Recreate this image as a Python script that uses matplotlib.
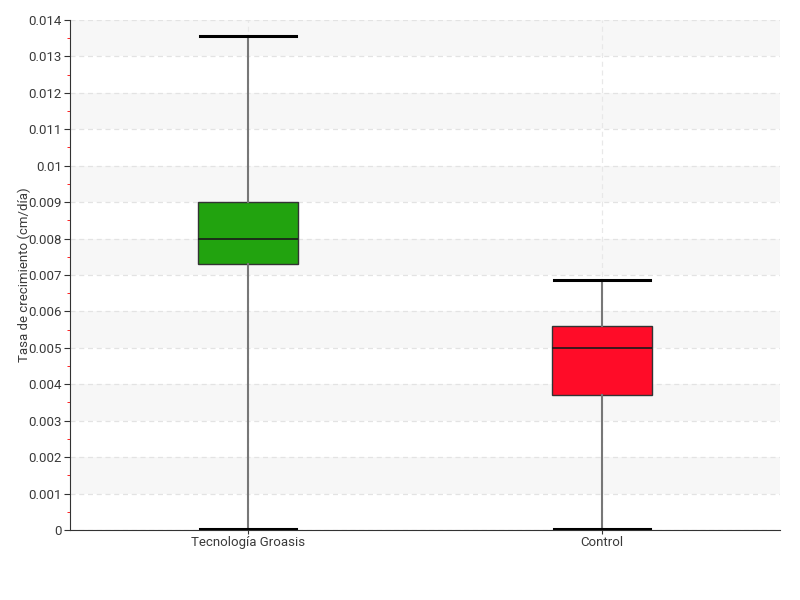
import matplotlib
matplotlib.use("Agg")
import matplotlib.pyplot as plt
from matplotlib.ticker import MultipleLocator

# Values
groups = ["Tecnología Groasis", "Control"]
whisker_low = [0.00003, 0.00003]
q1 = [0.0073, 0.0037]
medians = [0.0080, 0.0050]
q3 = [0.0090, 0.0056]
whisker_high = [0.01357, 0.00687]
box_colors = ["#22a30f", "#ff0c28"]
y_ticks = [i / 1000 for i in range(0, 15)]

plt.rcParams["font.family"] = ["Roboto", "DejaVu Sans"]
text_color = "#3a3a3a"

fig = plt.figure(figsize=(8, 6), dpi=100)
ax = fig.add_axes([0.0875, 0.1167, 0.8875, 0.85])

# alternating background bands
for lo in y_ticks[1:-1:2]:
    ax.axhspan(lo, lo + 0.001, color="#f7f7f7", zorder=0, lw=0)

stats = []
for i, name in enumerate(groups):
    stats.append({
        "label": name,
        "whislo": whisker_low[i],
        "q1": q1[i],
        "med": medians[i],
        "q3": q3[i],
        "whishi": whisker_high[i],
        "fliers": [],
    })

bp = ax.bxp(stats, positions=[1, 2], widths=0.28, patch_artist=True,
            showfliers=False,
            whiskerprops=dict(color="#777777", lw=1.5),
            capprops=dict(color="black", lw=2.2),
            medianprops=dict(color="#1a1a1a", lw=1.2),
            boxprops=dict(lw=1.0))
for patch, c in zip(bp["boxes"], box_colors):
    patch.set_facecolor(c)
    patch.set_edgecolor("#333333")
for cap in bp["caps"]:
    xd = cap.get_xdata()
    mid = (xd[0] + xd[1]) / 2
    cap.set_xdata([mid - 0.135, mid + 0.135])

ax.set_xlim(0.497, 2.503)
ax.set_ylim(0, 0.014)
ax.set_yticks(y_ticks)
ax.set_yticklabels(["0" if v == 0 else f"{v:g}" for v in y_ticks])
ax.yaxis.set_minor_locator(MultipleLocator(0.0005))
ax.tick_params(axis="y", which="major", length=4, color="#333333",
               labelcolor=text_color, labelsize=9.5, pad=2)
ax.tick_params(axis="y", which="minor", length=2, color="red")
ax.tick_params(axis="x", length=3, color="#333333", labelcolor=text_color,
               labelsize=9.5, pad=1)

ax.grid(axis="y", which="major", color="#e3e3e3", ls=(0, (4, 3)), lw=0.9)
ax.grid(axis="x", color="#e8e8e8", ls=(0, (4, 3)), lw=0.9)
ax.set_axisbelow(True)

for side in ["top", "right"]:
    ax.spines[side].set_visible(False)
ax.spines["left"].set_color("#333333")
ax.spines["bottom"].set_color("#333333")

ax.set_ylabel("Tasa de crecimiento (cm/día)", color=text_color, fontsize=9.5)
ax.yaxis.set_label_coords(-0.055, 0.5)

fig.savefig("out.png", dpi=100)
